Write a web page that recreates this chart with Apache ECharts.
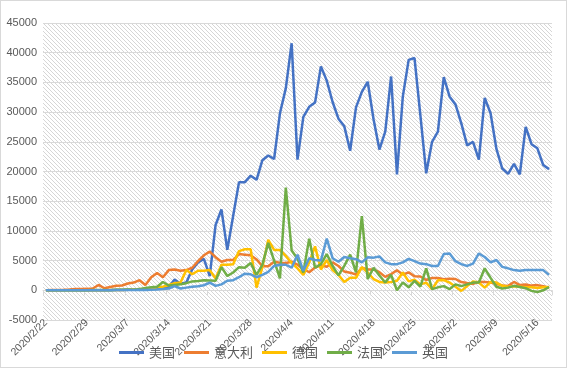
<!DOCTYPE html>
<html><head><meta charset="utf-8">
<script src="https://cdn.jsdelivr.net/npm/echarts@6/dist/echarts.min.js"></script>
<style>
html,body{margin:0;padding:0;background:#fff;}
#c{width:567px;height:368px;box-sizing:border-box;border:1px solid #D9D9D9;}
</style></head>
<body><div id="c"></div>
<script>
var dates = ["2020/2/22","2020/2/23","2020/2/24","2020/2/25","2020/2/26","2020/2/27","2020/2/28","2020/2/29",
"2020/3/1","2020/3/2","2020/3/3","2020/3/4","2020/3/5","2020/3/6","2020/3/7","2020/3/8","2020/3/9","2020/3/10",
"2020/3/11","2020/3/12","2020/3/13","2020/3/14","2020/3/15","2020/3/16","2020/3/17","2020/3/18","2020/3/19","2020/3/20",
"2020/3/21","2020/3/22","2020/3/23","2020/3/24","2020/3/25","2020/3/26","2020/3/27","2020/3/28","2020/3/29","2020/3/30",
"2020/3/31","2020/4/1","2020/4/2","2020/4/3","2020/4/4","2020/4/5","2020/4/6","2020/4/7","2020/4/8","2020/4/9","2020/4/10",
"2020/4/11","2020/4/12","2020/4/13","2020/4/14","2020/4/15","2020/4/16","2020/4/17","2020/4/18","2020/4/19","2020/4/20",
"2020/4/21","2020/4/22","2020/4/23","2020/4/24","2020/4/25","2020/4/26","2020/4/27","2020/4/28","2020/4/29","2020/4/30",
"2020/5/1","2020/5/2","2020/5/3","2020/5/4","2020/5/5","2020/5/6","2020/5/7","2020/5/8","2020/5/9","2020/5/10","2020/5/11",
"2020/5/12","2020/5/13","2020/5/14","2020/5/15","2020/5/16","2020/5/17","2020/5/18"];

var usa = [0,0,0,1,0,1,3,6,4,20,20,30,50,70,100,120,150,250,300,400,
500,600,1800,1100,1300,3500,4700,5300,2400,11000,13600,6800,12500,18200,18200,19300,18600,21900,22700,22100,
29800,34000,41600,22000,29200,30900,31600,37700,35300,31700,28900,27600,23500,30800,33400,35100,28800,23700,26700,36000,
19500,32600,38800,39100,29500,19700,25000,26700,35900,32600,31300,28100,24400,25000,22000,32400,29800,23800,20500,19600,
21300,19500,27500,24600,23900,21100,20400];

var italy = [20,60,70,90,130,200,230,240,300,900,340,570,780,800,1150,1300,1700,900,2200,2900,
2200,3400,3500,3300,3400,3800,4900,5900,6500,5570,4800,5100,5100,6100,6000,5900,5200,4050,4050,4800,
4650,4600,4800,4316,3599,3039,3836,4204,3951,4694,4092,3153,2972,2667,3786,3493,3491,3047,2256,2729,
3370,2646,3021,2357,2324,1739,2091,2086,1872,1965,1900,1389,1221,1075,1444,1401,1327,1083,802,744,
1402,888,992,789,875,675,451];

var germany = [0,0,0,0,0,1,10,10,20,0,20,30,60,30,100,150,200,180,300,500,
600,900,1200,1300,3400,2700,3300,3300,3400,2000,4300,4300,4400,6600,6900,6900,450,3900,8500,6800,
6800,5800,4600,3700,2600,4700,7400,3500,5100,3400,2600,1400,2100,2100,3900,3000,1900,1400,1300,1400,
1600,3000,1500,1800,1000,1300,170,1700,1700,1300,600,-100,700,1500,1300,450,1400,1300,750,600,
700,600,500,500,400,500,550];

var france = [0,0,0,0,2,3,20,20,40,30,60,20,80,90,150,100,200,370,500,600,
1400,800,900,1000,1200,1500,1550,1700,1650,1600,3900,2400,3000,3900,3800,4600,2600,4300,8000,5000,
2000,17300,6700,5300,3000,8700,3800,4400,6100,4100,2500,4100,6000,3000,12500,1900,3800,2500,1300,2600,
0,1300,500,1600,600,3700,200,500,700,200,1000,700,1000,1300,1300,3700,2100,600,300,450,
750,550,350,-100,-300,0,550];

var uk = [0,0,0,0,1,2,3,5,10,10,15,20,30,40,50,60,80,50,100,130,
200,300,700,300,450,600,700,850,1300,750,1000,1600,1700,2200,2800,2700,2200,2600,3100,4100,
4300,4300,3800,6000,3300,5400,5100,5000,8700,5400,4800,5600,5400,5250,4700,5550,5500,5700,4700,4400,
4400,4700,5300,4900,4500,4400,4100,4100,6100,6200,4900,4400,4100,4500,6200,5600,4700,5100,3950,3700,
3400,3300,3400,3400,3400,3400,2600];

var seriesNames = ["美国","意大利","德国","法国","英国"];
var seriesColors = ["#4472C4","#ED7D31","#FFC000","#70AD47","#5B9BD5"];
var seriesData = [usa, italy, germany, france, uk];

var yMin = -5000, yMax = 45000, yStep = 5000;

// hatch pattern for plot area
var pc = document.createElement('canvas');
pc.width = 4; pc.height = 4;
var px = pc.getContext('2d');
px.fillStyle = '#ffffff'; px.fillRect(0,0,4,4);
px.fillStyle = '#D6D6D6';
for (var k = 0; k < 4; k++) { px.fillRect(k, k, 1, 1); }

var font = '"Noto Sans CJK SC", "Noto Sans", sans-serif';
var numFont = '"Liberation Sans", Arial, sans-serif';
var chart = echarts.init(document.getElementById('c'), null, {renderer:'canvas'});
chart.setOption({
  animation: false,
  backgroundColor: '#ffffff',
  textStyle: {fontFamily: font},
  grid: {left: 42, right: 14, top: 22, bottom: 47, containLabel: false, show: true,
         backgroundColor: {image: pc, repeat: 'repeat'}, borderWidth: 0},
  legend: {
    data: seriesNames, top: 340, left: 'center', icon: 'rect', itemWidth: 25, itemHeight: 3, itemGap: 9,
    textStyle: {fontSize: 13, color: '#595959', fontFamily: font}
  },
  xAxis: {
    type: 'category', data: dates, boundaryGap: true,
    axisLine: {onZero: true, lineStyle: {color: '#D9D9D9', width: 1}},
    axisTick: {show: true, interval: 6, length: 5, lineStyle: {color: '#D9D9D9'}},
    axisLabel: {interval: 6, rotate: 45, fontSize: 10.5, color: '#595959', margin: 1, fontFamily: numFont},
    splitLine: {show: false}
  },
  yAxis: {
    type: 'value', min: yMin, max: yMax, interval: yStep,
    axisLine: {show: false}, axisTick: {show: false},
    axisLabel: {fontSize: 11, color: '#595959', margin: 6, fontFamily: numFont,
                formatter: function(v){ return String(v); }},
    splitLine: {lineStyle: {color: '#D9D9D9', width: 1}}
  },
  series: seriesNames.map(function(n, idx){
    return {name: n, type: 'line', data: seriesData[idx], symbol: 'none',
            lineStyle: {color: seriesColors[idx], width: 2.5}, itemStyle: {color: seriesColors[idx]}};
  })
});
</script></body></html>
